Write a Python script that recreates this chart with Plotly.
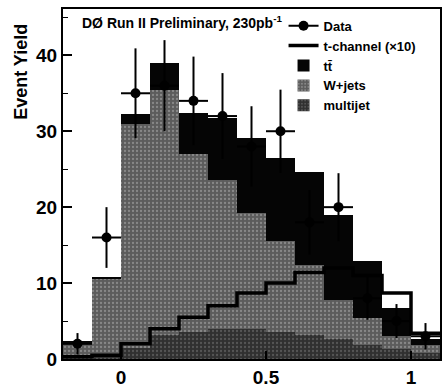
import plotly.graph_objects as go

# ---- data ----
bin_centers = [-0.15, -0.05, 0.05, 0.15, 0.25, 0.35, 0.45, 0.55, 0.65, 0.75, 0.85, 0.95, 1.05]
bin_width = 0.1
multijet = [0.4, 0.5, 1.5, 3.2, 3.6, 3.9, 3.9, 3.6, 3.2, 2.6, 1.9, 1.3, 0.8]
wjets = [1.8, 10.1, 29.4, 32.2, 23.4, 19.7, 15.3, 11.9, 9.2, 5.2, 3.5, 1.7, 1.0]
ttbar = [0.2, 0.1, 1.4, 3.6, 5.4, 8.2, 9.9, 11.0, 12.2, 11.2, 7.5, 3.7, 0.9]
tchannel_x10 = [0.3, 0.5, 2.0, 4.0, 5.5, 7.0, 8.7, 10.0, 11.4, 12.0, 11.0, 8.7, 3.4]
data_counts = [2, 16, 35, 36, 34, 32, 28, 30, 18, 20, 8, 5, 3]

x_ticks = [0, 0.5, 1]
x_tick_labels = ["0", "0.5", "1"]
y_ticks = [0, 10, 20, 30, 40]

FONT = "Liberation Sans"

fig = go.Figure()

fig.add_trace(go.Bar(
    x=bin_centers, y=multijet, width=bin_width, name="multijet",
    marker=dict(color="#363636", line=dict(width=0),
                pattern=dict(shape=".", fgcolor="#7a7a7a", bgcolor="#303030", size=4, solidity=0.25)),
    legendrank=5,
))
fig.add_trace(go.Bar(
    x=bin_centers, y=wjets, width=bin_width, name="W+jets",
    marker=dict(color="#6a6a6a", line=dict(width=0),
                pattern=dict(shape=".", fgcolor="#b4b4b4", bgcolor="#5c5c5c", size=4, solidity=0.25)),
    legendrank=4,
))
fig.add_trace(go.Bar(
    x=bin_centers, y=ttbar, width=bin_width, name="tt\u0304",
    marker=dict(color="#050505", line=dict(width=0)),
    legendrank=3,
))

# t-channel step line
half = bin_width / 2
step_x = [c - half for c in bin_centers] + [bin_centers[-1] + half]
step_y = tchannel_x10 + [tchannel_x10[-1]]
fig.add_trace(go.Scatter(
    x=step_x, y=step_y, mode="lines", line=dict(shape="hv", color="black", width=3.5),
    name="t-channel (\u00d710)", legendrank=2,
))

# data points
fig.add_trace(go.Scatter(
    x=bin_centers, y=data_counts, mode="markers",
    marker=dict(color="black", size=10),
    error_y=dict(type="data", array=[c ** 0.5 for c in data_counts], color="black", thickness=2, width=0),
    error_x=dict(type="data", array=[half] * len(bin_centers), color="black", thickness=2, width=0),
    name="Data", showlegend=False,
))
# legend entry for data (marker with bar)
fig.add_trace(go.Scatter(
    x=[None], y=[None], mode="lines+markers",
    marker=dict(color="black", size=10), line=dict(color="black", width=2),
    name="Data", legendrank=1,
))

fig.update_layout(
    width=443, height=389,
    margin=dict(l=63, r=1, t=9, b=24),
    barmode="stack", bargap=0,
    plot_bgcolor="white", paper_bgcolor="white",
    showlegend=True,
    legend=dict(
        x=0.585, y=0.995, xanchor="left", yanchor="top",
        traceorder="normal",
        bgcolor="rgba(0,0,0,0)", borderwidth=0,
        font=dict(family=FONT, size=13, color="black", weight="bold"),
        tracegroupgap=0, itemwidth=30,
    ),
    xaxis=dict(
        range=[-0.2, 1.1], tickvals=x_ticks, ticktext=x_tick_labels,
        showgrid=False, zeroline=False, showline=True, linecolor="black", linewidth=2, mirror=True,
        ticks="inside", ticklen=8, tickcolor="black", tickwidth=1.5,
        tickfont=dict(family=FONT, size=19, color="black", weight="bold"),
    ),
    yaxis=dict(
        range=[0, 46.1], tickvals=y_ticks,
        showgrid=False, zeroline=False, showline=True, linecolor="black", linewidth=2, mirror=True,
        ticks="inside", ticklen=9, tickcolor="black", tickwidth=1.5,
        minor=dict(ticks="inside", ticklen=5, dtick=5, tickcolor="black", tickwidth=1),
        tickfont=dict(family=FONT, size=19, color="black", weight="bold"),
    ),
    annotations=[
        dict(text="<b>Event Yield</b>", textangle=-90, xref="paper", yref="paper",
             x=-0.11, y=0.962, xanchor="center", yanchor="top", showarrow=False,
             font=dict(family=FONT, size=18, color="black")),
        dict(text="<b>D\u00d8 Run II Preliminary, 230pb<sup>-1</sup></b>", xref="paper", yref="paper",
             x=0.045, y=0.962, xanchor="left", yanchor="middle", showarrow=False,
             font=dict(family=FONT, size=14, color="black")),
    ],
)

fig.write_html("out.html")
